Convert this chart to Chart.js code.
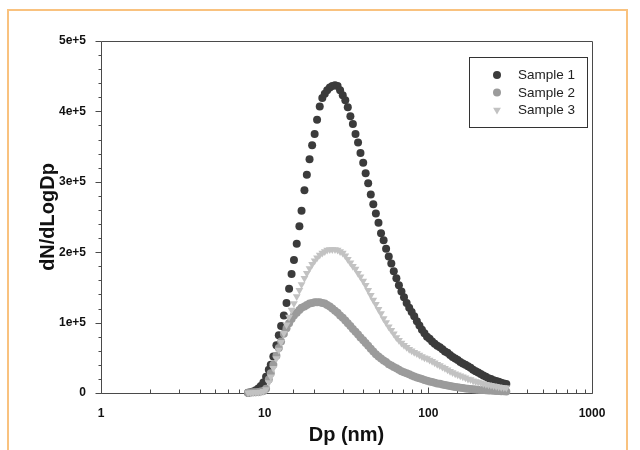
<!DOCTYPE html>
<html>
<head>
<meta charset="utf-8">
<script src="https://cdn.jsdelivr.net/npm/chart.js@4.4.1/dist/chart.umd.min.js"></script>
<style>
  html, body { margin: 0; padding: 0; background: #fff; }
  #wrap { width: 640px; height: 450px; position: relative; }
</style>
</head>
<body>
<div id="wrap"><canvas id="sizeChart"></canvas></div>
<script>
// particle diameters (nm), 64 channels per decade
const diameters = [7.91, 8.20, 8.51, 8.82, 9.14, 9.47, 9.82, 10.2, 10.6, 10.9, 11.3, 11.8, 12.2, 12.6, 13.1, 13.6,
  14.1, 14.6, 15.1, 15.7, 16.3, 16.8, 17.5, 18.1, 18.8, 19.5, 20.2, 20.9, 21.7, 22.5, 23.3, 24.1,
  25.0, 25.9, 26.9, 27.9, 28.9, 30.0, 31.1, 32.2, 33.4, 34.6, 35.9, 37.2, 38.5, 40.0, 41.4, 42.9,
  44.5, 46.1, 47.8, 49.6, 51.4, 53.3, 55.2, 57.3, 59.4, 61.5, 63.8, 66.1, 68.5, 71.0, 73.7, 76.4,
  79.1, 82.0, 85.1, 88.2, 91.4, 94.7, 98.2, 101.8, 105.5, 109.4, 113.4, 117.6, 121.9, 126.3, 131.0, 135.8,
  140.7, 145.9, 151.2, 156.8, 162.5, 168.5, 174.7, 181.1, 187.7, 194.6, 201.7, 209.1, 216.7, 224.7, 232.9, 241.4,
  250.3, 259.5, 269.0, 278.8, 289.0, 299.6];

const sample1 = [300, 1000, 2000, 4000, 6500, 10000, 15000, 23000, 33000, 40000, 52000, 68000, 82000, 95000, 110000, 128000,
  148000, 169000, 189000, 212000, 237000, 259000, 288000, 310000, 332000, 352000, 368000, 388000, 407000, 419000, 425000, 430000,
  434000, 436000, 437000, 436000, 430000, 423000, 416000, 406000, 393000, 382000, 368000, 356000, 341000, 327000, 312000, 298000,
  282000, 268000, 255000, 242000, 227000, 217000, 205000, 194000, 184000, 173000, 163000, 153000, 144000, 136000, 128000, 121000,
  115000, 109000, 102000, 96000, 90000, 85000, 80000, 77000, 73000, 70000, 67000, 65000, 62000, 59000, 57000, 54000,
  51000, 49000, 47000, 44000, 42000, 40000, 38000, 36000, 33000, 31000, 29000, 27000, 25000, 23000, 21000, 20000,
  18000, 17000, 16000, 14500, 13500, 12800];

const sample2 = [500, 800, 1000, 1200, 1500, 2000, 3000, 6000, 19000, 28000, 40000, 53000, 64000, 73000, 84000, 92000,
  99000, 105000, 110000, 114000, 118000, 121000, 123000, 125000, 127000, 128000, 129000, 129000, 129000, 128000, 127000, 125000,
  123000, 120000, 117000, 114000, 110000, 107000, 103000, 99000, 95000, 91000, 87000, 83000, 79000, 75000, 71000, 67000,
  63000, 59000, 55000, 52000, 49000, 46000, 44000, 41000, 39000, 37000, 35000, 33000, 31000, 29500, 28000, 26500,
  25000, 23500, 22000, 21000, 20000, 18500, 17500, 16500, 15500, 14500, 13500, 13000, 12000, 11200, 10500, 9800,
  9200, 8600, 8000, 7500, 7000, 6500, 6100, 5700, 5300, 5000, 4700, 4400, 4100, 3900, 3600, 3400,
  3200, 3000, 2800, 2600, 2500, 2300];

const sample3 = [300, 500, 700, 900, 1100, 1500, 2500, 5000, 15000, 23000, 35000, 49000, 61000, 72000, 85000, 97000,
  108000, 118000, 127000, 137000, 146000, 154000, 163000, 170000, 177000, 183000, 188000, 192000, 196000, 199000, 201000, 203000,
  204000, 204000, 204000, 203000, 201000, 199000, 195000, 190000, 185000, 180000, 176000, 170000, 165000, 159000, 153000, 146000,
  139000, 132000, 126000, 119000, 113000, 106000, 100000, 94000, 89000, 84000, 79000, 75000, 71000, 68000, 65000, 62000,
  60000, 58000, 56000, 54000, 52000, 50000, 49000, 47000, 45000, 43000, 41000, 39000, 37000, 35000, 33000, 31000,
  29000, 27500, 26000, 24500, 23000, 21500, 20000, 19000, 17500, 16500, 15500, 14500, 13500, 12500, 11700, 11000,
  10200, 9500, 8900, 8300, 7800, 7300];

const seriesNames = ['Sample 1', 'Sample 2', 'Sample 3'];
const xTickLabels = [1, 10, 100, 1000];
const yTickLabels = ['0', '1e+5', '2e+5', '3e+5', '4e+5', '5e+5'];

const FONT = '"Liberation Sans", Arial, sans-serif';
const AXIS_COLOR = '#4a4a4a';

const toPoints = values => diameters.map((d, i) => ({ x: d, y: values[i] }));

// outer frame, plot box and tick marks
const framePlugin = {
  id: 'frame',
  beforeDraw(chart) {
    const ctx = chart.ctx;
    ctx.save();
    ctx.fillStyle = '#fff';
    ctx.fillRect(0, 0, chart.width, chart.height);
    ctx.strokeStyle = '#f9c27f';
    ctx.lineWidth = 2;
    ctx.strokeRect(8, 10, 619, 470);
    ctx.restore();
  },
  beforeDatasetsDraw(chart) {
    const { ctx, chartArea: a, scales: { x, y } } = chart;
    const left = Math.round(a.left) + 0.5, top = Math.round(a.top) + 0.5;
    const right = Math.round(a.right) + 0.5, bottom = Math.round(a.bottom) + 0.5;
    ctx.save();
    ctx.strokeStyle = AXIS_COLOR;
    ctx.lineWidth = 1;
    ctx.beginPath();
    ctx.rect(left, top, right - left, bottom - top);
    x.ticks.forEach(t => {
      const px = Math.round(x.getPixelForValue(t.value)) + 0.5;
      const len = xTickLabels.includes(t.value) ? 6 : 4;
      ctx.moveTo(px, bottom);
      ctx.lineTo(px, bottom - len);
    });
    y.ticks.forEach(t => {
      const py = Math.round(y.getPixelForValue(t.value)) + 0.5;
      const len = t.value % 100000 === 0 ? 6 : 3;
      ctx.moveTo(left, py);
      ctx.lineTo(left - len, py);
    });
    ctx.stroke();
    ctx.restore();
  },
  afterDraw(chart) {
    const ctx = chart.ctx;
    ctx.save();
    ctx.strokeStyle = '#333';
    ctx.lineWidth = 1;
    ctx.strokeRect(469.5, 57.5, 118, 70);
    ctx.font = '13.5px ' + FONT;
    ctx.textBaseline = 'middle';
    ctx.textAlign = 'left';
    chart.data.datasets.forEach((ds, i) => {
      const cx = 497, cy = 75 + i * 17.5;
      ctx.fillStyle = ds.backgroundColor;
      ctx.beginPath();
      if (ds.pointStyle === 'triangle') {
        const r = 4.5;
        ctx.moveTo(cx - r * 0.87, cy - r * 0.5);
        ctx.lineTo(cx + r * 0.87, cy - r * 0.5);
        ctx.lineTo(cx, cy + r);
        ctx.closePath();
      } else {
        ctx.arc(cx, cy, 4, 0, Math.PI * 2);
      }
      ctx.fill();
      ctx.fillStyle = '#222';
      ctx.fillText(ds.label, 518, cy + 0.5);
    });
    ctx.restore();
  }
};

const ctx = document.getElementById('sizeChart').getContext('2d');
new Chart(ctx, {
  type: 'scatter',
  data: {
    datasets: [
      {
        label: seriesNames[0],
        data: toPoints(sample1),
        backgroundColor: '#3b3b3b',
        borderColor: '#3b3b3b',
        borderWidth: 0,
        pointRadius: 4,
        order: 3
      },
      {
        label: seriesNames[1],
        data: toPoints(sample2),
        backgroundColor: '#9b9b9b',
        borderColor: '#9b9b9b',
        borderWidth: 0,
        pointRadius: 4,
        order: 2
      },
      {
        label: seriesNames[2],
        data: toPoints(sample3),
        backgroundColor: '#c2c2c2',
        borderColor: '#c2c2c2',
        borderWidth: 0,
        pointStyle: 'triangle',
        rotation: 180,
        pointRadius: 4.5,
        order: 1
      }
    ]
  },
  options: {
    responsive: true,
    maintainAspectRatio: false,
    animation: false,
    devicePixelRatio: 1,
    clip: false,
    layout: { padding: { top: 41, right: 48, bottom: 0, left: 0 } },
    plugins: {
      legend: { display: false },
      tooltip: { enabled: false }
    },
    scales: {
      x: {
        type: 'logarithmic',
        min: 1,
        max: 1000,
        afterFit: s => { s.height = 57; },
        grid: { display: false, drawTicks: false },
        border: { display: false },
        ticks: {
          autoSkip: false,
          maxRotation: 0,
          padding: 13,
          color: '#111',
          font: { family: FONT, size: 12, weight: 'bold' },
          callback: v => xTickLabels.includes(v) ? String(v) : ''
        },
        title: {
          display: true,
          text: 'Dp (nm)',
          color: '#111',
          font: { family: FONT, size: 20, weight: 'bold' },
          padding: { top: 0, bottom: 3 }
        }
      },
      y: {
        min: 0,
        max: 500000,
        afterFit: s => { s.width = 101; },
        grid: { display: false, drawTicks: false },
        border: { display: false },
        ticks: {
          stepSize: 20000,
          autoSkip: false,
          padding: 15,
          color: '#111',
          font: { family: FONT, size: 12, weight: 'bold' },
          callback: v => v % 100000 === 0 ? yTickLabels[v / 100000] : ''
        },
        title: {
          display: true,
          text: 'dN/dLogDp',
          color: '#111',
          font: { family: FONT, size: 20, weight: 'bold' },
          padding: { top: 36, bottom: 0 }
        }
      }
    }
  },
  plugins: [framePlugin]
});
</script>
</body>
</html>
